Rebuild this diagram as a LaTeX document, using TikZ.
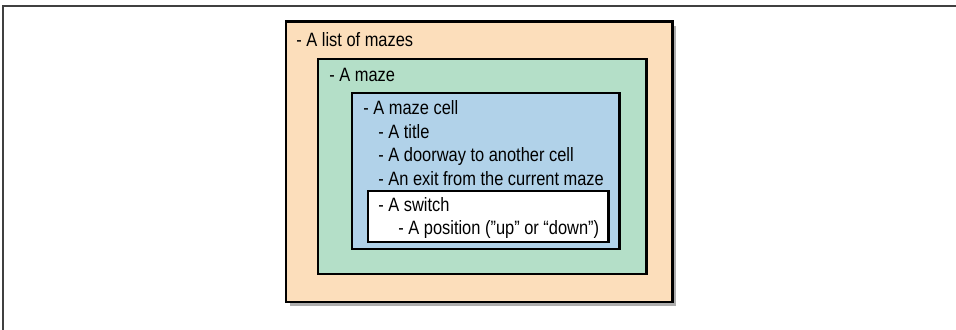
\documentclass[tikz,border=0pt]{standalone}
\usepackage{fontspec}
\setmainfont{Liberation Sans}[FakeStretch=0.85]
\usepackage{tikz}
\usetikzlibrary{shadows}
\definecolor{peach}{RGB}{252,222,187}
\definecolor{mint}{RGB}{180,223,200}
\definecolor{sky}{RGB}{177,210,233}
\tikzstyle{boite} = [draw=black, line width=1.7pt]
\tikzstyle{ombre} = [drop shadow={shadow xshift=2.5pt, shadow yshift=-2.5pt, opacity=0.4, fill=black!80}]
\tikzstyle{ligne} = [anchor=base west, inner sep=0pt, font=\fontsize{11}{13.4}\selectfont]

\begin{document}
\begin{tikzpicture}[x=0.02cm, y=-0.02cm]
	\useasboundingbox (0,0) rectangle (956,330);
	\draw[black!75, line width=0.7pt] (3,330) -- (3,6) -- (956,6);

	\draw[boite, ombre, fill=peach] (286,22) rectangle (672,302);
	\draw[boite, fill=mint] (318,59) rectangle (646,274);
	\draw[boite, fill=sky] (352,93) rectangle (619,249);
	\draw[boite, fill=white] (368,191) rectangle (608,242);

	\node[ligne] (liste) at (296,47) {- A list of mazes};
	\node[ligne] (maze) at (329,82) {- A maze};
	\node[ligne] (cell) at (363,115) {- A maze cell};
	\node[ligne] (title) at (378,139) {- A title};
	\node[ligne] (door) at (378,162) {- A doorway to another cell};
	\node[ligne] (exit) at (378,186) {- An exit from the current maze};
	\node[ligne] (switch) at (378,212) {- A switch};
	\node[ligne] (pos) at (398,235) {- A position (”up” or “down”)};

\end{tikzpicture}
\end{document}
